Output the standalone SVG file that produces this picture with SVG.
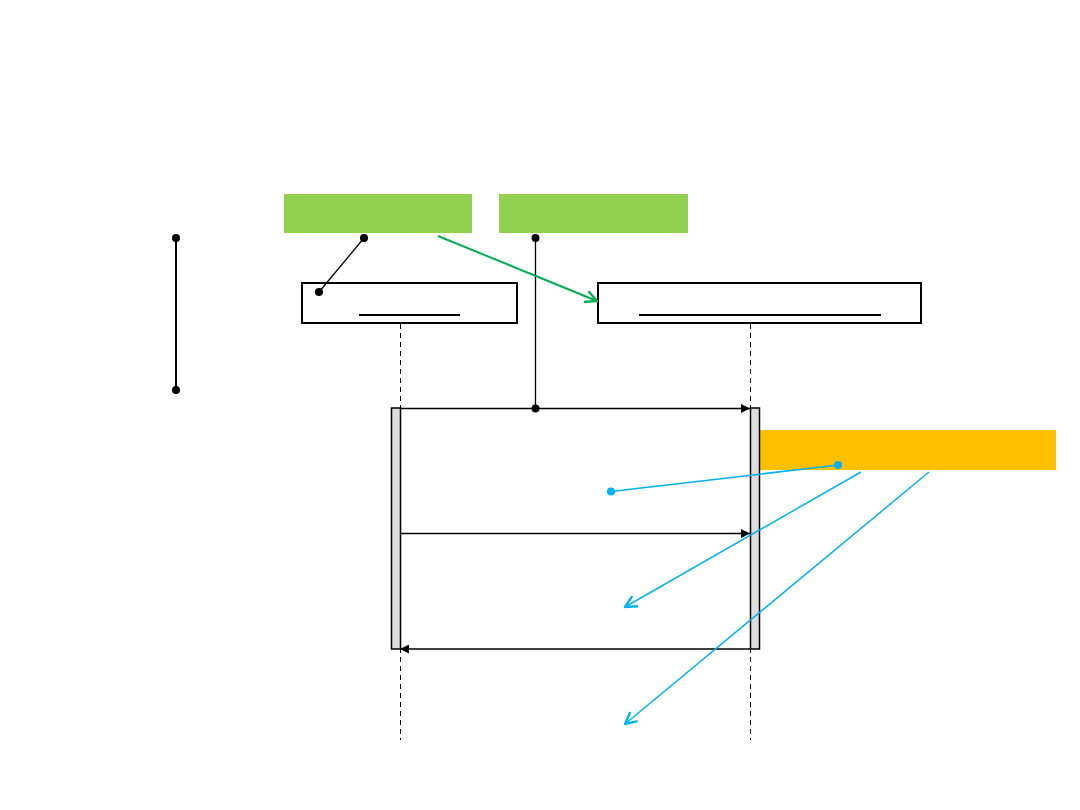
<svg xmlns="http://www.w3.org/2000/svg" width="1080" height="810" viewBox="0 0 1080 810">
<style>
.obj{fill:#fff;stroke:#000;stroke-width:2}
.ul{stroke:#000;stroke-width:2}
.life{stroke:#000;stroke-width:1;stroke-dasharray:5,4}
.act{fill:#DDDDDD;stroke:#000;stroke-width:1.5}
.msg{stroke:#000;stroke-width:1.3;fill:none}
.blue{stroke:#00B0F0;stroke-width:1.5;fill:none}
.dot{fill:#000}
.bdot{fill:#00B0F0}
</style>
<defs>
<marker id="fa" viewBox="0 0 10 10" refX="10" refY="5" markerWidth="9" markerHeight="9" markerUnits="userSpaceOnUse" orient="auto"><path d="M0,0 L10,5 L0,10 Z" fill="#000"/></marker>
<marker id="ga" viewBox="0 0 12 12" refX="11" refY="6" markerWidth="14" markerHeight="14" markerUnits="userSpaceOnUse" orient="auto"><path d="M1,1 L11,6 L1,11" fill="none" stroke="#00B050" stroke-width="2"/></marker>
<marker id="ba" viewBox="0 0 12 12" refX="11" refY="6" markerWidth="14" markerHeight="14" markerUnits="userSpaceOnUse" orient="auto"><path d="M1,1 L11,6 L1,11" fill="none" stroke="#00B0F0" stroke-width="2"/></marker>
</defs>
<rect width="1080" height="810" fill="#fff"/>
<g id="note-green-1"><rect x="284" y="194" width="188" height="39" fill="#92D050"/></g>
<g id="note-green-2"><rect x="499" y="194" width="189" height="39" fill="#92D050"/></g>
<g id="note-orange"><rect x="760" y="430" width="296" height="40" fill="#FFC000"/></g>
<g id="lifelines">
<line class="life" x1="400.5" y1="324" x2="400.5" y2="740"/>
<line class="life" x1="750.5" y1="324" x2="750.5" y2="740"/>
</g>
<g id="object-a"><rect class="obj" x="302" y="283" width="215" height="40"/><line class="ul" x1="359" y1="315" x2="460" y2="315"/></g>
<g id="object-b"><rect class="obj" x="598" y="283" width="323" height="40"/><line class="ul" x1="639" y1="315" x2="881" y2="315"/></g>
<g id="activation-a"><rect class="act" x="391.5" y="408" width="9" height="241"/></g>
<g id="activation-b"><rect class="act" x="750.5" y="408" width="9" height="241"/></g>
<g id="scale"><line x1="176" y1="238" x2="176" y2="390" stroke="#000" stroke-width="2"/><circle class="dot" cx="176" cy="238" r="4"/><circle class="dot" cx="176" cy="390" r="4"/></g>
<g id="connectors">
<line class="msg" x1="401" y1="408.5" x2="750" y2="408.5" marker-end="url(#fa)"/>
<line class="msg" x1="401" y1="533.5" x2="750" y2="533.5" marker-end="url(#fa)"/>
<line class="msg" x1="750" y1="649" x2="400" y2="649" marker-end="url(#fa)"/>
<line x1="364" y1="238" x2="319" y2="292" stroke="#000" stroke-width="1.3"/>
<circle class="dot" cx="364" cy="238" r="4"/>
<circle class="dot" cx="319" cy="292" r="4"/>
<line x1="535.5" y1="238" x2="535.5" y2="408" stroke="#000" stroke-width="1.3"/>
<circle class="dot" cx="535.5" cy="238" r="4"/>
<circle class="dot" cx="535.5" cy="408.5" r="4"/>
<line x1="438" y1="236" x2="597" y2="301" stroke="#00B050" stroke-width="2" marker-end="url(#ga)"/>
<line class="blue" x1="838" y1="465" x2="611" y2="491.5"/>
<circle class="bdot" cx="838" cy="465" r="4"/>
<circle class="bdot" cx="611" cy="491.5" r="4"/>
<line class="blue" x1="861" y1="472" x2="625" y2="607" marker-end="url(#ba)"/>
<line class="blue" x1="929" y1="472" x2="625" y2="724" marker-end="url(#ba)"/>
</g>
</svg>
